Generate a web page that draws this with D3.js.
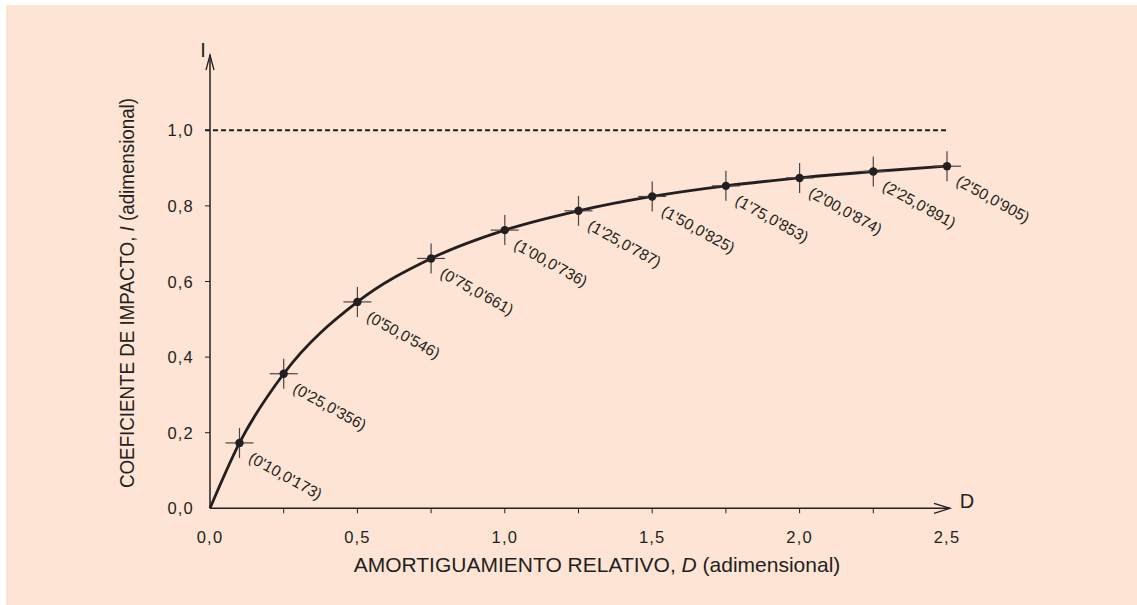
<!DOCTYPE html>
<html><head><meta charset="utf-8">
<script src="https://cdn.jsdelivr.net/npm/d3@7"></script>
<style>body{margin:0;background:#fff}svg{display:block}text{font-family:"Liberation Sans",Arial,sans-serif;fill:#231f20}</style>
</head><body><svg id="c" width="1137" height="605"></svg>
<script>
const dVals = [0.10, 0.25, 0.50, 0.75, 1.00, 1.25, 1.50, 1.75, 2.00, 2.25, 2.50];
const iVals = [0.173, 0.356, 0.546, 0.661, 0.736, 0.787, 0.825, 0.853, 0.874, 0.891, 0.905];
const pointLabels = ["(0'10,0'173)","(0'25,0'356)","(0'50,0'546)","(0'75,0'661)","(1'00,0'736)","(1'25,0'787)","(1'50,0'825)","(1'75,0'853)","(2'00,0'874)","(2'25,0'891)","(2'50,0'905)"];
const xTickVals = [0, 0.5, 1.0, 1.5, 2.0, 2.5];
const xTickLabels = ["0,0","0,5","1,0","1,5","2,0","2,5"];
const xMinorTicks = [0.25, 0.75, 1.25, 1.75, 2.25];
const yTickVals = [0, 0.2, 0.4, 0.6, 0.8, 1.0];
const yTickLabels = ["0,0","0,2","0,4","0,6","0,8","1,0"];
const asymptote = 1.0;

const svg = d3.select("#c");
const ink = "#231f20";
svg.append("rect").attr("x",6).attr("y",5).attr("width",1131).attr("height",600).attr("fill","#fde4d4");

const x = d3.scaleLinear().domain([0,2.5]).range([210,947]);
const y = d3.scaleLinear().domain([0,1]).range([508.3,130.3]);

// asymptote dashed
svg.append("line").attr("x1",205).attr("x2",x(2.5)).attr("y1",y(asymptote)).attr("y2",y(asymptote))
  .attr("stroke",ink).attr("stroke-width",2).attr("stroke-dasharray","5,3");

// axes lines
svg.append("line").attr("x1",x(0)).attr("x2",x(0)).attr("y1",y(0)).attr("y2",55).attr("stroke",ink).attr("stroke-width",1.5);
svg.append("path").attr("d",`M${x(0)-4},70 L${x(0)},55 L${x(0)+4},70`).attr("fill","none").attr("stroke",ink).attr("stroke-width",1.3);
svg.append("line").attr("x1",x(0)).attr("x2",950).attr("y1",y(0)).attr("y2",y(0)).attr("stroke",ink).attr("stroke-width",1.5);
svg.append("path").attr("d",`M934,${y(0)-5} L950,${y(0)} L934,${y(0)+5}`).attr("fill","none").attr("stroke",ink).attr("stroke-width",1.3);

// x ticks
const xt = svg.append("g");
xt.selectAll("line.t").data(xTickVals.concat(xMinorTicks).filter(v=>v>0 && v<2.5)).join("line")
  .attr("x1",d=>x(d)).attr("x2",d=>x(d)).attr("y1",y(0)).attr("y2",y(0)+5).attr("stroke",ink).attr("stroke-width",1);
xt.selectAll("text").data(xTickVals).join("text")
  .attr("x",d=>x(d)).attr("y",y(0)+35).attr("text-anchor","middle").attr("font-size",16.5).attr("letter-spacing",1.2)
  .text((d,i)=>xTickLabels[i]);

// y ticks
const yt = svg.append("g");
yt.selectAll("line").data(yTickVals.filter(v=>v>0)).join("line")
  .attr("x1",x(0)-5).attr("x2",x(0)).attr("y1",d=>y(d)).attr("y2",d=>y(d)).attr("stroke",ink).attr("stroke-width",1);
yt.selectAll("text").data(yTickVals).join("text")
  .attr("x",194).attr("y",d=>y(d)+6).attr("text-anchor","end").attr("font-size",16.5).attr("letter-spacing",1.2)
  .text((d,i)=>yTickLabels[i]);

// axis letters
svg.append("text").attr("x",203).attr("y",57).attr("text-anchor","middle").attr("font-size",20).text("I");
svg.append("text").attr("x",967).attr("y",508).attr("text-anchor","middle").attr("font-size",20).text("D");

// axis titles
const xtitle = svg.append("text").attr("x",597).attr("y",572).attr("text-anchor","middle").attr("font-size",21);
xtitle.append("tspan").text("AMORTIGUAMIENTO RELATIVO, ");
xtitle.append("tspan").attr("font-style","italic").text("D");
xtitle.append("tspan").text(" (adimensional)");
const ytitle = svg.append("text").attr("transform","translate(134,293) rotate(-90)").attr("text-anchor","middle").attr("font-size",20.5)
  .attr("textLength",390).attr("lengthAdjust","spacingAndGlyphs");
ytitle.append("tspan").text("COEFICIENTE DE IMPACTO, ");
ytitle.append("tspan").attr("font-style","italic").text("I");
ytitle.append("tspan").text(" (adimensional)");

// curve
const pts = [[0,0]].concat(dVals.map((d,i)=>[d,iVals[i]]));
svg.append("path").attr("d", d3.line().x(d=>x(d[0])).y(d=>y(d[1])).curve(d3.curveMonotoneX)(pts))
  .attr("fill","none").attr("stroke",ink).attr("stroke-width",2.8);

// crosses
const g = svg.append("g");
const data = dVals.map((d,i)=>({d, v:iVals[i], lab:pointLabels[i]}));
g.selectAll("line.h").data(data).join("line")
  .attr("x1",p=>x(p.d)-14).attr("x2",p=>x(p.d)+14).attr("y1",p=>y(p.v)).attr("y2",p=>y(p.v))
  .attr("stroke","#4a4445").attr("stroke-width",1.2);
g.selectAll("line.v").data(data).join("line")
  .attr("x1",p=>x(p.d)).attr("x2",p=>x(p.d)).attr("y1",p=>y(p.v)-15).attr("y2",p=>y(p.v)+15)
  .attr("stroke","#4a4445").attr("stroke-width",1.2);
g.selectAll("circle").data(data).join("circle")
  .attr("cx",p=>x(p.d)).attr("cy",p=>y(p.v)).attr("r",4.2).attr("fill",ink);
g.selectAll("text").data(data).join("text")
  .attr("transform",p=>`translate(${x(p.d)+8},${y(p.v)+18}) rotate(29)`)
  .attr("font-size",15.5).text(p=>p.lab);
</script></body></html>
